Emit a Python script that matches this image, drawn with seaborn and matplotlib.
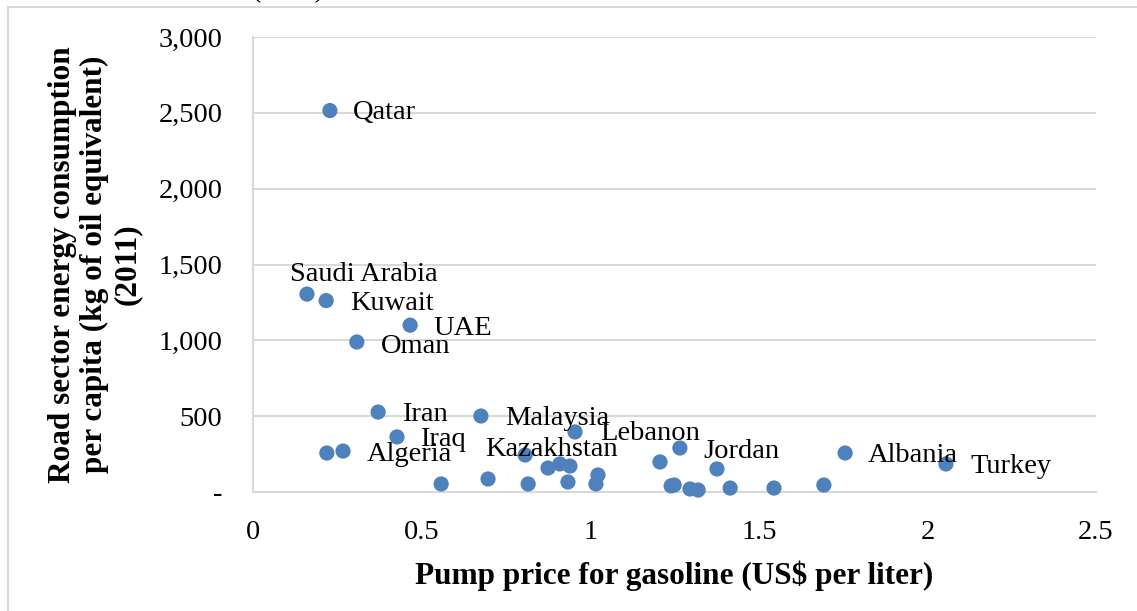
import matplotlib
matplotlib.use("Agg")
import matplotlib.pyplot as plt
from matplotlib.patches import Rectangle
from matplotlib.ticker import FuncFormatter
import seaborn as sns
import pandas as pd

# Pump price (US$/l) vs road sector energy use per capita (kgoe), 2011
countries = ["Qatar", "Saudi Arabia", "Kuwait", "UAE", "Oman", "Iran", "Malaysia",
             "Lebanon", "Iraq", "Algeria", "Kazakhstan", "Jordan", "Albania", "Turkey",
             "", "", "", "", "", "", "", "", "", "", "", "", "", "", "", "", "", "", ""]
price = [0.228, 0.160, 0.217, 0.466, 0.308, 0.371, 0.676,
         0.955, 0.427, 0.267, 0.807, 1.266, 1.756, 2.055,
         0.219, 0.558, 0.697, 0.816, 0.875, 0.910, 0.940, 0.934, 1.023, 1.017,
         1.207, 1.376, 1.240, 1.249, 1.296, 1.320, 1.415, 1.545, 1.693]
energy = [2515, 1305, 1262, 1100, 989, 527, 501,
          396, 363, 270, 244, 290, 257, 185,
          257, 53, 86, 53, 158, 185, 171, 66, 112, 53,
          198, 152, 40, 46, 20, 13, 26, 26, 46]

df = pd.DataFrame({"country": countries, "price": price, "energy": energy})

# label offsets in pixels (dx, dy)
label_off = {"Qatar": (23, -2), "Saudi Arabia": (-17, 20), "Kuwait": (24, -3),
             "UAE": (23, -3), "Oman": (24, -4), "Iran": (24, -2), "Malaysia": (24, -2),
             "Lebanon": (25, -2), "Iraq": (23, -3), "Algeria": (24, -3),
             "Kazakhstan": (-40, 5), "Jordan": (23, -3), "Albania": (23, -2),
             "Turkey": (24, -3)}

sns.set_style("white")
plt.rcParams["font.family"] = ["Liberation Serif", "DejaVu Serif"]
plt.rcParams["text.color"] = "black"
plt.rcParams["axes.labelcolor"] = "black"
plt.rcParams["xtick.color"] = "black"
plt.rcParams["ytick.color"] = "black"

fig = plt.figure(figsize=(11.37, 6.11), dpi=100)
ax = fig.add_axes([253 / 1137, 1 - 492 / 611, 843 / 1137, 455 / 611])

sns.scatterplot(data=df, x="price", y="energy", color="#4F81BD", s=120,
                edgecolor="none", ax=ax, zorder=3, clip_on=False)

for _, r in df[df["country"] != ""].iterrows():
    dx, dy = label_off[r["country"]]
    ax.annotate(r["country"], (r["price"], r["energy"]), xytext=(dx, dy),
                textcoords="offset pixels", ha="left", va="center",
                fontsize=20.5, zorder=4)

ax.set_xlim(0, 2.5)
ax.set_ylim(0, 3000)
ax.set_xticks([0, 0.5, 1, 1.5, 2, 2.5])
ax.set_xticklabels(["0", "0.5", "1", "1.5", "2", "2.5"])
ax.set_yticks(range(0, 3001, 500))
ax.yaxis.set_major_formatter(FuncFormatter(lambda v, p: "-" if v == 0 else f"{int(v):,}"))
ax.tick_params(axis="both", length=0, labelsize=20.5)
ax.tick_params(axis="y", pad=22)
ax.tick_params(axis="x", pad=20)

ax.grid(axis="y", color="#d9d9d9", linewidth=1.5)
ax.grid(axis="x", visible=False)
for side in ["top", "right"]:
    ax.spines[side].set_visible(False)
for side in ["left", "bottom"]:
    ax.spines[side].set_color("#d9d9d9")
    ax.spines[side].set_linewidth(1.5)

ax.set_xlabel("Pump price for gasoline (US$ per liter)", fontsize=22.5,
              fontweight="bold", labelpad=11)
ax.set_ylabel("Road sector energy consumption\nper capita (kg of oil equivalent)\n(2011)",
              fontsize=22.5, fontweight="bold", labelpad=12, linespacing=1.15)

# outer chart frame and cut-off title from the source
fig.patches.append(Rectangle((8 / 1137, -0.05), 1.1, 1.05 - 7 / 611,
                             transform=fig.transFigure, fill=False,
                             edgecolor="#d9d9d9", linewidth=1.5))
fig.text(288 / 1137, 1 + 3 / 611, "(2011)", ha="center", va="baseline", fontsize=20)

fig.savefig("out.png", dpi=100)
